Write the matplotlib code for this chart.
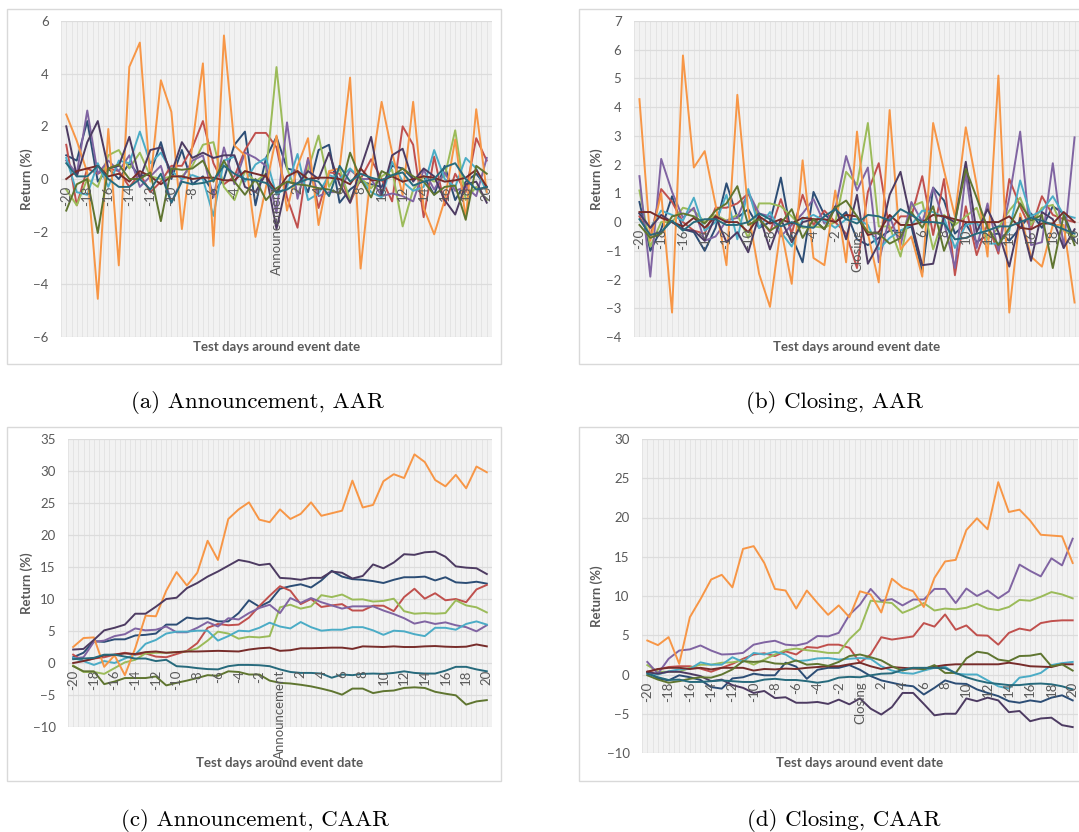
import matplotlib
matplotlib.use("Agg")
import matplotlib.pyplot as plt
import numpy as np

days = np.arange(-20, 21)

# AAR around announcement (%)
a_dblue = [0.9, 0.7, 2.2, -0.1, 0.4, 0.0, 0.6, 0.1, 0.2, 1.4, 0.0, 1.1, -0.2, 0.1, -0.5, 0.0, 1.3, 1.8, -1.0, 0.8, 1.6, 0.4, 0.3, -0.5, 1.1, 1.3, -0.9, -0.4, -0.1, -0.2, -0.3, 0.5, 0.4, 0.0, 0.1, -0.6, 0.5, -0.8, -0.1, 0.2, -0.3]
a_red = [1.3, -1.0, 0.4, 0.2, 0.4, 0.3, -0.3, 0.2, -0.5, -0.1, 0.5, 0.5, 1.2, 2.2, 0.6, -0.2, 0.1, 1.1, 1.75, 1.75, 1.2, -0.7, -1.85, 0.8, -1.1, 0.25, 0.2, -0.9, 0.0, 0.75, 0.0, -0.85, 2.0, 1.3, -1.45, 0.85, -1.0, 0.2, -0.5, 1.55, 0.7]
a_green = [-0.4, -1.0, 0.0, -0.3, 0.9, 1.1, 0.4, 1.0, 0.1, 0.0, 0.1, 0.1, 0.5, 1.3, 1.4, -0.3, -0.8, 0.3, -0.1, 0.2, 4.25, 0.4, -0.6, 0.35, 1.65, -0.3, 0.4, -0.8, 0.05, -0.35, 0.1, 0.35, -1.8, -0.4, 0.1, -0.1, 0.1, 1.85, -0.8, -0.3, -0.8]
a_purple = [0.7, 0.2, 2.6, 0.2, 0.7, 0.3, 0.9, -0.3, 0.1, 0.5, -0.9, 0.0, 0.7, 0.9, -0.7, 1.2, -0.2, 1.0, 0.8, 0.5, -1.3, 2.15, -0.75, 0.75, -0.65, -0.5, -0.5, 0.35, 0.0, 0.0, -0.65, -0.55, -0.65, -0.85, 0.35, -0.4, 0.25, -0.45, -0.3, -0.65, 0.8]
a_cyan = [0.8, -0.5, -0.6, 0.6, -0.3, 0.7, 0.6, 1.8, 0.6, 1.0, 0.3, 0.0, 0.15, 0.0, -1.4, 0.7, 0.85, -0.1, 0.55, 0.8, -0.6, -0.3, 0.95, -0.8, -0.55, 0.15, 0.0, 0.4, 0.0, -0.5, -0.7, 0.65, -0.1, -0.45, -0.3, 1.1, 0.0, -0.3, 0.8, 0.4, -0.5]
a_orange = [2.45, 1.45, 0.25, -4.55, 1.9, -3.28, 4.26, 5.18, -0.1, 3.75, 2.55, -1.9, 1.3, 4.39, -2.54, 5.45, 1.27, 0.9, -2.2, -0.3, 1.65, -1.2, 0.5, 1.55, -1.75, 0.3, 0.4, 3.85, -3.4, 0.3, 2.93, 1.0, -0.6, 2.93, -1.1, -2.1, -0.8, 1.5, -1.5, 2.65, -0.5]
a_dpurple = [2.0, 0.1, 1.4, 2.2, 0.4, 0.5, 1.6, 0.0, 1.1, 1.2, 0.2, 1.4, 0.8, 1.0, 0.8, 0.9, 0.9, -0.3, -0.5, 0.2, -1.9, -0.1, -0.2, 0.3, 0.0, 1.0, -0.2, -0.9, 0.4, 1.6, -0.6, 0.9, 1.15, -0.1, 0.4, 0.1, -0.8, -1.35, -0.2, -0.1, -0.9]
a_maroon = [0.0, 0.3, 0.4, 0.5, 0.1, 0.2, -0.1, 0.3, 0.1, -0.2, 0.1, 0.1, 0.0, 0.05, 0.05, -0.05, -0.05, 0.3, 0.2, 0.1, -0.5, 0.1, 0.3, 0.0, 0.05, 0.05, 0.0, -0.2, 0.4, -0.05, -0.05, 0.1, -0.1, 0.0, 0.1, 0.05, -0.1, -0.05, 0.05, 0.35, -0.3]
a_olive = [-1.2, -0.2, 0.0, -2.05, 0.4, 0.55, 0.0, 0.0, 0.25, -1.6, 0.4, 0.35, 0.4, 0.7, -0.1, 0.7, -0.1, -0.6, 0.0, -0.8, -0.35, -0.1, -0.2, -0.25, -0.35, -0.4, -0.55, 1.0, 0.0, -0.7, 0.3, 0.1, 0.4, 0.1, -0.1, -0.6, -0.3, -0.25, -1.55, 0.5, 0.2]
a_teal = [0.6, 0.1, 0.1, 0.5, 0.0, -0.3, -0.3, 0.0, -0.4, 0.2, -0.9, -0.1, -0.2, -0.15, -0.05, 0.5, 0.2, 0.0, -0.05, -0.15, -0.5, -0.4, -0.15, 0.0, -0.1, -0.65, 0.5, -0.1, 0.2, 0.05, -0.05, 0.15, 0.25, -0.25, -0.1, 0.0, 0.45, 0.6, 0.0, -0.4, -0.3]

# AAR around closing (%)
b_dblue = [0.7, -1.0, -0.25, 0.9, -0.25, -0.35, -1.0, -0.2, 1.35, 0.15, 0.45, -0.2, 0.0, 1.55, -0.5, -1.4, 1.05, 0.25, 0.0, 0.35, -0.6, -0.8, -0.55, -0.3, -0.3, -0.15, -1.75, 1.2, 0.75, -0.4, -0.05, -0.7, -0.45, -0.4, -0.65, -0.2, 0.3, -0.2, 0.55, 0.3, -0.65]
b_red = [0.2, -0.55, 1.15, 0.7, 0.0, -0.3, -0.4, 0.5, 0.5, 0.65, 1.0, 0.15, -0.35, 0.8, -0.4, 0.95, -0.1, 0.4, 0.0, -0.4, -1.6, 1.05, 2.05, -0.3, 0.2, 0.2, 1.6, -0.45, 1.5, -1.85, 0.55, -1.15, -0.05, -1.1, 1.5, 0.55, -0.25, 0.9, 0.25, 0.1, 0.0]
b_green = [1.1, -0.85, 0.0, 0.0, 0.5, 0.4, 0.0, 0.25, 0.05, 0.25, -0.55, 0.65, 0.65, 0.55, 0.2, -0.2, -0.15, -0.2, 0.0, 1.75, 1.3, 3.45, -0.15, -0.15, -1.2, 0.55, 0.7, -0.95, 0.25, -0.1, 0.2, 0.5, -0.6, -0.2, 0.4, 0.85, -0.1, 0.5, 0.6, -0.3, -0.5]
b_purple = [1.6, -1.9, 2.2, 1.05, 0.15, 0.5, -0.65, -0.5, 0.05, 0.15, 1.05, 0.3, 0.2, -0.5, -0.1, 0.3, 0.8, -0.05, 0.45, 2.3, 1.1, 1.9, -1.4, 0.2, -0.8, 0.7, 0.0, 1.2, 0.0, -1.6, 1.7, -0.9, 0.65, -1.0, 0.85, 3.15, -0.8, -0.7, 2.05, -0.9, 2.95]
b_cyan = [0.3, -0.2, 0.4, 0.25, 0.05, 0.85, -0.3, 0.0, 0.95, -0.6, 1.15, -0.2, 0.35, -0.35, -0.85, 0.1, 0.25, 0.05, -0.2, 0.1, 0.1, -0.1, -0.95, -0.55, -0.3, -0.1, 0.4, 0.35, 0.15, -0.9, -0.1, 0.0, -0.75, -0.75, -0.3, 1.45, 0.2, 0.4, 0.9, 0.25, 0.15]
b_orange = [4.28, -0.65, 1.0, -3.15, 5.8, 1.9, 2.47, 0.6, -1.5, 4.43, 0.35, -1.8, -2.95, -0.2, -2.15, 2.15, -1.25, -1.5, 1.1, -1.4, 3.15, -0.4, -2.1, 3.9, -0.95, -0.5, -1.9, 3.45, 1.8, 0.2, 3.3, 1.3, -1.2, 5.1, -3.15, 0.3, -1.2, -1.55, -0.1, -0.1, -2.8]
b_dpurple = [0.3, -0.2, 0.25, 0.0, -0.25, -0.3, -0.65, 0.2, -0.7, -0.35, -1.05, 0.25, -0.95, 0.1, -0.7, 0.0, 0.1, -0.25, 0.55, -0.6, 0.95, -1.45, -0.75, 0.95, 1.75, 0.0, -1.5, -1.45, 0.2, 0.0, 2.1, -0.35, 0.45, -0.35, -1.55, 0.15, -1.35, 0.35, 0.1, -0.9, -0.25]
b_maroon = [0.35, 0.35, 0.15, 0.0, -0.15, 0.15, -0.2, 0.2, 0.0, 0.0, -0.35, 0.2, -0.05, 0.1, -0.05, 0.15, 0.1, 0.1, 0.0, 0.25, 0.2, -0.45, -0.35, 0.25, -0.1, -0.1, 0.0, 0.25, 0.2, 0.1, 0.0, 0.0, 0.0, 0.0, 0.2, -0.2, -0.25, -0.05, -0.05, 0.35, 0.0]
b_olive = [-0.1, -0.55, -0.4, 0.2, 0.3, 0.2, -0.05, 0.4, 0.65, 1.25, -0.1, 0.1, -0.3, -0.05, 0.45, -0.55, 0.1, -0.25, 0.5, 0.75, 0.2, -0.35, -0.4, -0.75, -0.55, 0.35, -0.2, 0.55, -1.0, 0.0, 1.85, 0.85, -0.2, -0.8, -0.2, 0.65, 0.05, 0.25, -1.6, 0.25, -0.8]
b_teal = [0.1, -0.45, -0.35, 0.05, -0.3, 0.0, 0.1, 0.1, -0.1, -0.1, 0.0, 0.3, 0.1, -0.15, 0.0, -0.15, -0.2, 0.2, 0.45, 0.1, -0.05, 0.25, 0.2, 0.05, 0.45, 0.25, 0.0, 0.0, -0.05, -0.6, -0.55, -0.4, -0.3, -0.15, -0.15, 0.0, 0.15, 0.05, -0.1, -0.25, -0.4]

# CAAR around announcement (%)
c_dblue = [0.9, 1.6, 3.4, 3.3, 3.7, 3.7, 4.3, 4.4, 4.6, 6.0, 6.0, 7.1, 6.9, 7.0, 6.5, 6.5, 7.8, 9.8, 8.8, 9.6, 11.6, 12.0, 12.3, 11.8, 12.9, 14.4, 13.5, 13.1, 13.0, 12.8, 12.5, 13.0, 13.4, 13.4, 13.5, 12.9, 13.4, 12.6, 12.5, 12.7, 12.4]
c_red = [1.3, 0.3, 0.7, 0.9, 1.3, 1.6, 1.3, 1.5, 1.0, 0.9, 1.4, 1.9, 3.1, 5.5, 6.1, 5.9, 6.0, 7.1, 8.9, 10.5, 12.0, 11.3, 9.2, 10.0, 8.75, 9.0, 9.2, 8.2, 8.2, 8.95, 8.95, 8.1, 10.3, 11.6, 10.05, 10.9, 9.8, 10.0, 9.5, 11.5, 12.2]
c_green = [-0.4, -1.4, -1.4, -1.7, -0.8, 0.1, 0.5, 1.5, 1.6, 1.6, 1.7, 1.8, 2.3, 3.5, 4.9, 4.6, 3.8, 4.1, 4.0, 4.2, 8.7, 9.1, 8.5, 8.85, 10.6, 10.3, 10.7, 9.9, 9.95, 9.6, 9.7, 10.05, 8.1, 7.7, 7.8, 7.7, 7.8, 9.8, 9.0, 8.7, 7.9]
c_purple = [0.7, 0.9, 3.3, 3.5, 4.2, 4.5, 5.4, 5.1, 5.2, 5.7, 4.8, 4.8, 5.5, 6.4, 5.7, 7.0, 6.8, 7.8, 8.6, 9.1, 7.8, 10.15, 9.4, 10.15, 9.5, 9.0, 8.5, 8.85, 8.85, 8.85, 8.2, 7.65, 7.0, 6.15, 6.5, 6.1, 6.35, 5.9, 5.6, 4.95, 5.9]
c_cyan = [0.8, 0.3, -0.3, 0.3, 0.0, 0.7, 1.3, 3.0, 3.6, 4.6, 4.9, 4.9, 5.05, 5.05, 3.5, 4.2, 5.05, 4.95, 5.5, 6.3, 5.7, 5.4, 6.4, 5.6, 5.05, 5.2, 5.2, 5.6, 5.6, 5.1, 4.4, 5.05, 4.95, 4.5, 4.2, 5.5, 5.5, 5.2, 6.1, 6.5, 6.0]
c_orange = [2.5, 3.9, 4.0, -0.6, 1.2, -1.9, 2.3, 7.4, 7.3, 11.3, 14.2, 12.1, 14.1, 19.1, 16.1, 22.5, 24.0, 25.1, 22.4, 22.0, 24.0, 22.5, 23.3, 25.1, 23.0, 23.4, 23.8, 28.5, 24.3, 24.7, 28.4, 29.5, 28.9, 32.6, 31.4, 28.6, 27.6, 29.4, 27.3, 30.7, 29.8]
c_dpurple = [2.1, 2.2, 3.6, 5.1, 5.5, 6.0, 7.7, 7.7, 8.8, 10.0, 10.2, 11.7, 12.5, 13.5, 14.3, 15.2, 16.1, 15.8, 15.3, 15.5, 13.3, 13.2, 13.0, 13.3, 13.3, 14.3, 14.1, 13.2, 13.6, 15.4, 14.8, 15.7, 17.0, 16.9, 17.3, 17.4, 16.6, 15.1, 14.9, 14.8, 13.9]
c_maroon = [0.0, 0.3, 0.7, 1.2, 1.3, 1.5, 1.4, 1.7, 1.8, 1.6, 1.7, 1.8, 1.8, 1.85, 1.9, 1.85, 1.8, 2.1, 2.3, 2.4, 1.9, 2.0, 2.3, 2.3, 2.35, 2.4, 2.4, 2.2, 2.6, 2.55, 2.5, 2.6, 2.5, 2.5, 2.6, 2.65, 2.55, 2.5, 2.55, 2.9, 2.6]
c_olive = [-0.5, -1.3, -1.3, -3.3, -2.9, -2.35, -2.35, -2.35, -2.1, -3.5, -3.1, -2.75, -2.35, -1.9, -2.0, -1.3, -1.4, -1.8, -1.8, -2.75, -3.1, -3.2, -3.4, -3.65, -4.0, -4.4, -4.95, -4.0, -4.0, -4.7, -4.4, -4.3, -3.9, -3.8, -3.9, -4.5, -4.8, -5.05, -6.5, -6.0, -5.8]
c_teal = [0.6, 0.7, 0.8, 1.3, 1.3, 1.0, 0.7, 0.7, 0.3, 0.5, -0.5, -0.6, -0.8, -0.95, -1.0, -0.5, -0.3, -0.3, -0.35, -0.5, -1.0, -1.4, -1.55, -1.55, -1.65, -2.3, -1.8, -1.9, -1.7, -1.65, -1.7, -1.55, -1.3, -1.55, -1.65, -1.65, -1.2, -0.6, -0.6, -1.0, -1.3]

# CAAR around closing (%)
d_dblue = [0.35, -0.5, -0.75, -0.1, -0.35, -0.7, -1.6, -1.8, -0.5, -0.35, 0.1, -0.1, -0.1, 1.5, 1.0, -0.55, 0.6, 0.85, 0.85, 1.2, 0.6, -0.2, -0.75, -1.05, -1.35, -1.5, -2.55, -1.7, -0.75, -1.15, -1.2, -1.9, -2.35, -2.75, -3.4, -3.6, -3.3, -3.5, -2.95, -2.65, -3.3]
d_red = [0.35, 0.65, 0.95, 1.05, 1.05, 0.75, 0.35, 0.85, 1.35, 2.0, 2.55, 2.7, 2.35, 2.95, 2.55, 3.5, 3.4, 3.8, 3.8, 3.4, 1.5, 2.55, 4.75, 4.45, 4.65, 4.85, 6.55, 6.1, 7.65, 5.7, 6.25, 5.0, 4.95, 3.8, 5.3, 5.85, 5.6, 6.55, 6.8, 6.9, 6.9]
d_green = [1.2, 0.35, 0.35, 0.35, 0.85, 1.25, 1.25, 1.5, 1.55, 1.8, 1.25, 1.9, 2.55, 3.1, 3.3, 3.1, 2.95, 2.75, 2.75, 4.5, 5.8, 9.4, 9.25, 9.1, 7.85, 8.4, 9.1, 8.15, 8.4, 8.3, 8.5, 9.0, 8.4, 8.2, 8.6, 9.5, 9.4, 9.9, 10.5, 10.2, 9.7]
d_purple = [1.6, 0.1, 2.0, 3.05, 3.2, 3.7, 3.05, 2.55, 2.6, 2.75, 3.8, 4.1, 4.3, 3.8, 3.7, 4.0, 4.9, 4.85, 5.3, 7.6, 8.9, 10.9, 9.4, 9.6, 8.8, 9.55, 9.55, 10.9, 10.9, 9.1, 10.95, 10.0, 10.7, 9.7, 10.6, 14.0, 13.2, 12.5, 14.8, 13.9, 17.3]
d_cyan = [0.2, 0.0, 0.4, 0.65, 0.7, 1.55, 1.25, 1.25, 2.2, 1.6, 2.75, 2.55, 2.9, 2.55, 1.7, 1.8, 2.05, 2.1, 1.9, 2.0, 2.1, 2.0, 1.05, 0.5, 0.2, 0.1, 0.5, 0.85, 1.0, 0.1, 0.0, 0.0, -0.75, -1.5, -1.8, -0.4, -0.2, 0.2, 1.2, 1.45, 1.6]
d_orange = [4.33, 3.74, 4.76, 1.36, 7.3, 9.6, 12.1, 12.7, 11.1, 16.0, 16.35, 14.2, 10.9, 10.7, 8.4, 10.7, 9.1, 7.6, 8.8, 7.3, 10.6, 10.2, 7.9, 12.2, 11.1, 10.6, 8.6, 12.3, 14.4, 14.6, 18.4, 19.9, 18.5, 24.5, 20.7, 21.0, 19.6, 17.8, 17.7, 17.6, 14.2]
d_dpurple = [0.3, 0.1, 0.35, 0.35, 0.1, -0.2, -0.85, -0.65, -1.35, -1.7, -2.35, -2.1, -3.0, -2.9, -3.6, -3.6, -3.5, -3.75, -3.2, -3.8, -3.05, -4.35, -5.1, -4.15, -2.35, -2.35, -3.75, -5.2, -5.0, -5.0, -3.05, -3.4, -2.95, -3.3, -4.8, -4.65, -5.95, -5.6, -5.5, -6.45, -6.7]
d_maroon = [0.35, 0.7, 0.85, 0.85, 0.7, 0.85, 0.65, 0.85, 0.85, 0.85, 0.5, 0.7, 0.65, 0.75, 0.7, 0.85, 0.95, 1.05, 1.05, 1.3, 1.5, 1.05, 0.7, 0.95, 0.85, 0.75, 0.75, 1.0, 1.2, 1.3, 1.3, 1.3, 1.3, 1.3, 1.5, 1.3, 1.05, 1.0, 0.95, 1.3, 1.3]
d_olive = [-0.1, -0.65, -1.05, -0.85, -0.55, -0.35, -0.4, 0.0, 0.65, 1.7, 1.6, 1.7, 1.4, 1.35, 1.8, 1.25, 1.35, 1.1, 1.6, 2.35, 2.55, 2.2, 1.8, 1.05, 0.5, 0.85, 0.65, 1.2, 0.2, 0.2, 2.05, 2.9, 2.7, 1.9, 1.7, 2.35, 2.4, 2.65, 1.05, 1.3, 0.5]
d_teal = [0.1, -0.35, -0.7, -0.65, -0.95, -0.95, -0.85, -0.75, -0.85, -0.95, -0.95, -0.65, -0.55, -0.7, -0.7, -0.85, -1.05, -0.85, -0.4, -0.3, -0.35, -0.1, 0.1, 0.15, 0.6, 0.85, 0.85, 0.85, 0.8, 0.2, -0.35, -0.75, -1.05, -1.2, -1.35, -1.35, -1.2, -1.15, -1.25, -1.5, -1.9]

colors = ["#2C4D75", "#C0504D", "#9BBB59", "#8064A2", "#4BACC6",
          "#F79646", "#4D3B62", "#772C2A", "#5F7530", "#276A7C"]

W, H = 1079, 832
fig = plt.figure(figsize=(W / 100, H / 100), dpi=100)
TXT = "#595959"
SANS = "Lato"


def frac(x0, y0, x1, y1):
    return [x0 / W, 1 - y1 / H, (x1 - x0) / W, (y1 - y0) / H]


def panel(frame, plot, series, ylim, step, zero_label, ylab_x, xlab_y, caption, cap_xy):
    fig.patches.append(plt.Rectangle(
        (frame[0] / W, 1 - frame[3] / H), (frame[2] - frame[0]) / W,
        (frame[3] - frame[1]) / H, transform=fig.transFigure,
        facecolor="white", edgecolor="#D9D9D9", lw=1.0, zorder=-5))
    ax = fig.add_axes(frac(*plot))
    ax.set_facecolor("#F2F2F2")
    for s in ax.spines.values():
        s.set_visible(False)
    ax.set_xlim(-20.5, 20.5)
    ax.set_ylim(*ylim)
    ax.set_yticks(np.arange(ylim[0], ylim[1] + step / 2, step))
    ax.set_xticks([])
    ax.set_xticks(np.arange(-20.5, 20.6, 0.5), minor=True)
    ax.grid(axis="y", color="#DCDCDC", lw=0.9)
    ax.grid(axis="x", which="minor", color="#E2E2E2", lw=0.6)
    ax.set_axisbelow(True)
    ax.tick_params(axis="both", which="both", length=0)
    ax.tick_params(axis="y", pad=9, labelsize=9.5, labelcolor=TXT)
    for lab in ax.get_yticklabels():
        lab.set_family(SANS)
    for vals, c in zip(series, colors):
        ax.plot(days, vals, color=c, lw=1.4)
    for d in range(-20, 21, 2):
        txt = zero_label if d == 0 else str(d)
        ax.annotate(txt, (d, 0), xytext=(0, -5), textcoords="offset points",
                    rotation=90, ha="center", va="top", fontsize=9.5,
                    color=TXT, family=SANS, annotation_clip=False)
    cx = (plot[0] + min(plot[2], W)) / 2
    fig.text(cx / W, 1 - xlab_y / H, "Test days around event date", ha="center",
             va="center", fontsize=9.5, fontweight="bold", color=TXT, family=SANS)
    fig.text(ylab_x / W, 1 - (plot[1] + plot[3]) / 2 / H, "Return (%)", rotation=90,
             ha="center", va="center", fontsize=9.5, fontweight="bold", color=TXT,
             family=SANS)
    fig.text(cap_xy[0] / W, 1 - cap_xy[1] / H, caption, ha="center", va="center",
             fontsize=16.5, family="cmr10")
    return ax


panel((7, 9, 501, 364), (61, 21, 492, 337),
      [a_dblue, a_red, a_green, a_purple, a_cyan, a_orange, a_dpurple, a_maroon, a_olive, a_teal],
      (-6, 6), 2, "Announcement", 27, 347, "(a) Announcement, AAR", (257, 403))
panel((579, 9, 1130, 364), (634, 21, 1080, 337),
      [b_dblue, b_red, b_green, b_purple, b_cyan, b_orange, b_dpurple, b_maroon, b_olive, b_teal],
      (-4, 7), 1, "Closing", 597, 347, "(b) Closing, AAR", (835, 403))
panel((7, 427, 501, 781), (68, 439, 492, 727),
      [c_dblue, c_red, c_green, c_purple, c_cyan, c_orange, c_dpurple, c_maroon, c_olive, c_teal],
      (-10, 35), 5, "Announcement", 27, 763, "(c) Announcement, CAAR", (255, 820))
panel((579, 427, 1130, 781), (642, 439, 1078, 753),
      [d_dblue, d_red, d_green, d_purple, d_cyan, d_orange, d_dpurple, d_maroon, d_olive, d_teal],
      (-10, 30), 5, "Closing", 597, 763, "(d) Closing, CAAR", (844, 820))

fig.savefig("out.png", dpi=100)
